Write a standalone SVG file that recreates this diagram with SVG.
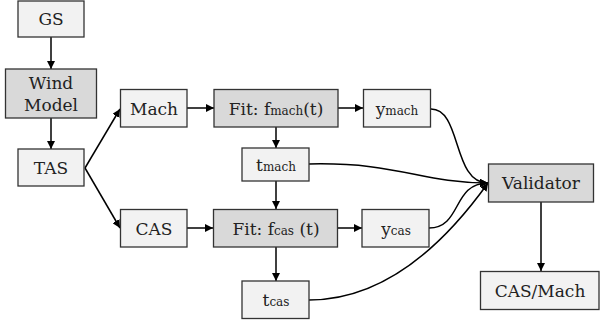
<svg xmlns="http://www.w3.org/2000/svg" width="600" height="327" viewBox="0 0 600 327">
<defs>
<marker id="ah" viewBox="0 0 10 10" refX="10" refY="5" markerWidth="8" markerHeight="8" markerUnits="userSpaceOnUse" orient="auto">
<path d="M0,0 L10,5 L0,10 z" fill="#000"/>
</marker>
<style>
.l{fill:#f2f2f2;stroke:#333;stroke-width:1.3}
.d{fill:#d9d9d9;stroke:#333;stroke-width:1.3}
text{font-family:"DejaVu Serif","Liberation Serif",serif;font-size:17px;fill:#222;text-anchor:middle}
.s{font-size:12px}
.e{fill:none;stroke:#000;stroke-width:1.5;marker-end:url(#ah)}
</style>
</defs>
<g id="connectors">
<path class="e" d="M51,37 L51,69"/>
<path class="e" d="M51,118 L51,149"/>
<path class="e" d="M85,168 L120,109"/>
<path class="e" d="M85,168 L120,228"/>
<path class="e" d="M187,108 L214,108"/>
<path class="e" d="M338,108 L363,108"/>
<path class="e" d="M276,127 L276,148"/>
<path class="e" d="M276,181 L276,209"/>
<path class="e" d="M187,228 L213,228"/>
<path class="e" d="M337,228 L362,228"/>
<path class="e" d="M276,247 L276,281"/>
<path class="e" d="M431,109 C462,109 452,183 488,183"/>
<path class="e" d="M309,164 C400,162 420,183 488,183"/>
<path class="e" d="M429,228 C462,228 452,183 488,183"/>
<path class="e" d="M309,300 C380,300 440,250 488,183"/>
<path class="e" d="M541,202 L541,271"/>
</g>
<g id="gs"><rect class="l" x="18" y="1" width="66" height="36"/><text x="51" y="25">GS</text></g>
<g id="wind"><rect class="d" x="5.5" y="69" width="91" height="49"/><text x="51" y="89">Wind</text><text x="51" y="111">Model</text></g>
<g id="tas"><rect class="l" x="18" y="149" width="66" height="37"/><text x="51" y="174">TAS</text></g>
<g id="mach"><rect class="l" x="120.5" y="89.5" width="66.5" height="37.5"/><text x="154" y="114.5">Mach</text></g>
<g id="fitmach"><rect class="d" x="214" y="89.5" width="124" height="37.5"/><text x="276" y="114.5">Fit: f<tspan class="s">mach</tspan>(t)</text></g>
<g id="ymach"><rect class="l" x="363.5" y="89.5" width="67" height="37.5"/><text x="397" y="114.5">y<tspan class="s">mach</tspan></text></g>
<g id="tmach"><rect class="l" x="242" y="148" width="67" height="33"/><text x="276" y="170.5">t<tspan class="s">mach</tspan></text></g>
<g id="cas"><rect class="l" x="120.5" y="209.5" width="66.5" height="37.5"/><text x="154" y="234.5">CAS</text></g>
<g id="fitcas"><rect class="d" x="213.5" y="209.5" width="124" height="37.5"/><text x="276" y="234.5">Fit: f<tspan class="s">cas</tspan> (t)</text></g>
<g id="ycas"><rect class="l" x="362" y="209.5" width="67" height="37.5"/><text x="396" y="234.5">y<tspan class="s">cas</tspan></text></g>
<g id="tcas"><rect class="l" x="242" y="281" width="67" height="37.5"/><text x="276" y="306">t<tspan class="s">cas</tspan></text></g>
<g id="validator"><rect class="d" x="488.5" y="164" width="105" height="38"/><text x="541" y="189">Validator</text></g>
<g id="casmach"><rect class="l" x="480.5" y="271.5" width="118.5" height="38"/><text x="540" y="296.5">CAS/Mach</text></g>
</svg>
